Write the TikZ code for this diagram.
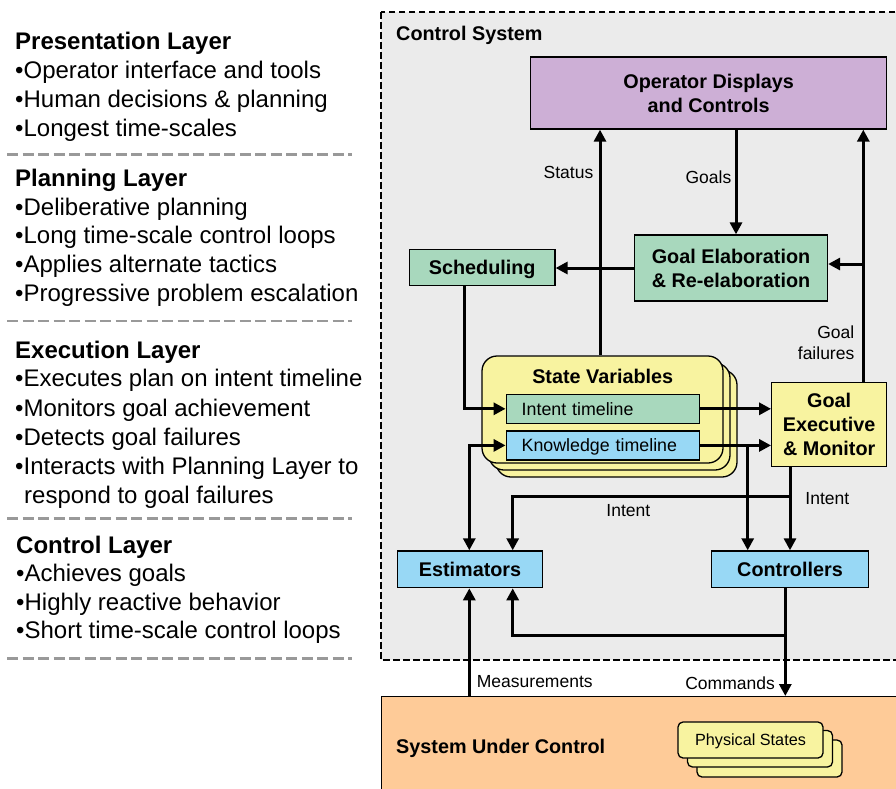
\documentclass[tikz,border=0pt]{standalone}
\usepackage{fontspec}
\setmainfont{Liberation Sans}
\usetikzlibrary{arrows.meta}
\definecolor{bggray}{HTML}{EBEBEB}
\definecolor{cpurple}{HTML}{CDAFD6}
\definecolor{cgreen}{HTML}{A8D8BD}
\definecolor{cblue}{HTML}{98D8F5}
\definecolor{cyellow}{HTML}{F8F3A0}
\definecolor{corange}{HTML}{FECB98}
\definecolor{dgray}{HTML}{999999}
\tikzset{
  box/.style={draw=black, line width=1.3pt, inner sep=0pt, align=center,
    font=\bfseries\fontsize{19.8}{24}\selectfont},
  onebox/.style={box, text height=14.3pt, text depth=0pt},
  tlbox/.style={draw=black, line width=1.3pt, inner sep=0pt, inner xsep=15.5pt,
    text width=162pt, minimum height=29pt, align=left, text height=12.8pt, text depth=0pt,
    font=\fontsize{17.8}{21}\selectfont},
  svbox/.style={draw=black, line width=1.3pt, fill=cyellow, rounded corners=15pt},
  psbox/.style={draw=black, line width=1.3pt, fill=cyellow, rounded corners=5pt},
  arr/.style={line width=3pt, -{Triangle[length=12pt,width=12pt]}},
  darr/.style={line width=3pt, {Triangle[length=12pt,width=12pt]}-{Triangle[length=12pt,width=12pt]}},
  lbl/.style={inner sep=0pt, font=\fontsize{17.5}{21.6}\selectfont},
  lhead/.style={inner sep=0pt, anchor=base west, font=\bfseries\fontsize{24}{28}\selectfont},
  litem/.style={inner sep=0pt, anchor=base west, font=\fontsize{24}{28}\selectfont},
  sep/.style={draw=dgray, line width=2.8pt, dash pattern=on 11pt off 4.5pt},
  ttl/.style={inner sep=0pt, anchor=base west, font=\bfseries\fontsize{19.8}{24}\selectfont}
}
\begin{document}
\begin{tikzpicture}[x=1pt,y=-1pt]
\useasboundingbox (0,0) rectangle (896,788);
% ---------- left column ----------
\node[lhead] (h1) at (15,49.8) {Presentation Layer};
\node[litem] (p1) at (15,78.3) {•Operator interface and tools};
\node[litem] (p2) at (15,107.3) {•Human decisions \& planning};
\node[litem] (p3) at (15,136) {•Longest time-scales};
\draw[sep] (7,154.3) -- (352,154.3);
\node[lhead] (h2) at (15,186.6) {Planning Layer};
\node[litem] (q1) at (15,215) {•Deliberative planning};
\node[litem] (q2) at (15,243.3) {•Long time-scale control loops};
\node[litem] (q3) at (15,272.3) {•Applies alternate tactics};
\node[litem] (q4) at (15,301.6) {•Progressive problem escalation};
\draw[sep] (7,321) -- (352,321);
\node[lhead] (h3) at (15,358.3) {Execution Layer};
\node[litem] (r1) at (15,386.6) {•Executes plan on intent timeline};
\node[litem] (r2) at (15,416.6) {•Monitors goal achievement};
\node[litem] (r3) at (15,445.6) {•Detects goal failures};
\node[litem] (r4) at (15,474.3) {•Interacts with Planning Layer to};
\node[litem] (r5) at (24,503.3) {respond to goal failures};
\draw[sep] (7,518.3) -- (352,518.3);
\node[lhead] (h4) at (16,553.3) {Control Layer};
\node[litem] (s1) at (16,581.6) {•Achieves goals};
\node[litem] (s2) at (16,610) {•Highly reactive behavior};
\node[litem] (s3) at (16,638.3) {•Short time-scale control loops};
\draw[sep] (7,658.3) -- (352,658.3);
% ---------- control system frame ----------
\draw[fill=bggray, line width=2pt, dash pattern=on 6.5pt off 3.5pt] (381,12) rectangle (910,660);
\node[ttl] (cst) at (396,40.5) {Control System};
% ---------- system under control ----------
\node[draw=black, line width=1pt, fill=corange, minimum width=540pt, minimum height=110pt,
  anchor=north west, inner sep=0pt] (sys) at (380.5,696) {};
\node[ttl] (sut) at (396,753.2) {System Under Control};
\draw[psbox] (697,740) rectangle (842,777);
\draw[psbox] (687.5,730.5) rectangle (832.5,767);
\node[psbox, minimum width=145pt, minimum height=36pt, inner sep=0pt,
  text height=11.6pt, text depth=0pt,
  font=\fontsize{16.2}{19}\selectfont] (ps) at (750.5,740) {Physical States};
% ---------- boxes ----------
\node[box, fill=cpurple, minimum width=356pt, minimum height=72pt] (op) at (708.7,93)
  {Operator Displays\\and Controls};
\node[box, fill=cgreen, minimum width=193pt, minimum height=66pt] (ge) at (731,268)
  {Goal Elaboration\\\& Re-elaboration};
\node[onebox, fill=cgreen, minimum width=145.5pt, minimum height=36.5pt] (sch) at (482.2,267.5)
  {Scheduling};
% state variables stack
\draw[svbox] (496,370) rectangle (737,477);
\draw[svbox] (489,363) rectangle (730,470);
\node[svbox, minimum width=241pt, minimum height=107pt, inner sep=0pt] (sv) at (602.5,409.5) {};
\node[inner sep=0pt, anchor=base, font=\bfseries\fontsize{19.8}{24}\selectfont] (svt) at (602.7,383) {State Variables};
\node[tlbox, fill=cgreen] (it) at (602.7,408.8) {Intent timeline};
\node[tlbox, fill=cblue] (kt) at (602.7,445.4) {Knowledge timeline};
\node[box, fill=cyellow, minimum width=115pt, minimum height=84pt] (gx) at (829.2,424.7)
  {Goal\\Executive\\\& Monitor};
\node[onebox, fill=cblue, minimum width=145.4pt, minimum height=36.7pt] (est) at (470,569.3)
  {Estimators};
\node[onebox, fill=cblue, minimum width=157.4pt, minimum height=36.7pt] (ctl) at (790,569.3)
  {Controllers};
% ---------- connectors ----------
\draw[arr] (600,0 |- sv.north) -- (600,0 |- op.south);
\draw[arr] (736,0 |- op.south) -- (736,0 |- ge.north);
\draw[arr] (863.3,0 |- gx.north) -- (863.3,0 |- op.south);
\coordinate (gfb) at (863.3,264);
\draw[arr] (gfb) -- (gfb -| ge.east);
\draw[arr] (ge.west) -- (ge.west -| sch.east);
\draw[arr] (464,0 |- sch.south) |- (it.west);
\draw[arr] (it.east) -- (it.east -| gx.west);
\draw[arr] (kt.east) -- (kt.east -| gx.west);
\draw[arr] (747.7,0 |- kt.east) -- (747.7,0 |- ctl.north);
\draw[darr] (469.3,0 |- est.north) |- (kt.west);
\draw[arr] (790,0 |- gx.south) -- (790,0 |- ctl.north);
\coordinate (ij) at (790,496.7);
\draw[arr] (ij) -| (512.7,0 |- est.north);
\draw[arr] (785.3,0 |- ctl.south) -- (785.3,0 |- sys.north);
\coordinate (fj) at (785.3,635.7);
\draw[arr] (fj) -| (512.7,0 |- est.south);
\draw[arr] (469.3,0 |- sys.north) -- (469.3,0 |- est.south);
% ---------- labels ----------
\node[lbl, anchor=base east] (lst) at (593.5,178.3) {Status};
\node[lbl, anchor=base east] (lgo) at (731.5,183.3) {Goals};
\node[lbl, anchor=base east, align=right] (lgf) at (854.5,359.6) {Goal\\failures};
\node[lbl, anchor=base] (lin1) at (628.3,516.2) {Intent};
\node[lbl, anchor=base] (lin2) at (827.3,504.5) {Intent};
\node[lbl, anchor=base west] (lme) at (476.7,687.2) {Measurements};
\node[lbl, anchor=base east] (lco) at (775,689.5) {Commands};
\end{tikzpicture}
\end{document}
